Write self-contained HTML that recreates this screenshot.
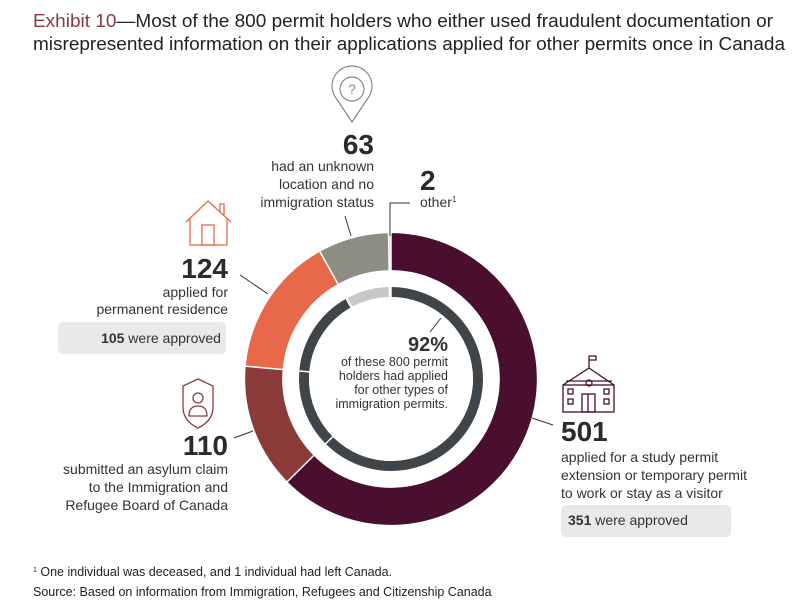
<!DOCTYPE html>
<html><head><meta charset="utf-8"><style>
html,body{margin:0;padding:0;background:#fff;}
svg{display:block;font-family:"Liberation Sans",sans-serif;}
</style></head><body>
<svg width="809" height="614" viewBox="0 0 809 614" xmlns="http://www.w3.org/2000/svg">
<text x="33" y="27" font-size="18" fill="#222" textLength="740" lengthAdjust="spacingAndGlyphs"><tspan fill="#8a3a3e">Exhibit 10</tspan>—Most of the 800 permit holders who either used fraudulent documentation or</text>
<text x="33" y="50" font-size="18" fill="#222" textLength="752" lengthAdjust="spacingAndGlyphs">misrepresented information on their applications applied for other permits once in Canada</text>

<!-- donut -->
<g transform="rotate(-90 391 379)">
<circle cx="391" cy="379" r="127.32" fill="none" stroke="#4a0e2e" stroke-width="37" stroke-dasharray="501 299" stroke-dashoffset="0"/>
<circle cx="391" cy="379" r="127.32" fill="none" stroke="#8b3a3a" stroke-width="37" stroke-dasharray="110 690" stroke-dashoffset="-501"/>
<circle cx="391" cy="379" r="127.32" fill="none" stroke="#e8694a" stroke-width="37" stroke-dasharray="124 676" stroke-dashoffset="-611"/>
<circle cx="391" cy="379" r="127.32" fill="none" stroke="#8e8d84" stroke-width="37" stroke-dasharray="63 737" stroke-dashoffset="-735"/>
<circle cx="391" cy="379" r="127.32" fill="none" stroke="#c9c9c4" stroke-width="37" stroke-dasharray="2 798" stroke-dashoffset="-798"/>
<circle cx="391" cy="379" r="87" fill="none" stroke="#3f4548" stroke-width="10" stroke-dasharray="503 44"/>
<circle cx="391" cy="379" r="87" fill="none" stroke="#c8c8c8" stroke-width="10" stroke-dasharray="43 504" stroke-dashoffset="-504"/>
</g>
<g stroke="#fff" stroke-width="1.5">
<line x1="391" y1="379" x2="391" y2="230"/>
<line x1="391" y1="379" x2="286" y2="483"/>
<line x1="391" y1="379" x2="243" y2="366"/>
<line x1="391" y1="379" x2="319" y2="250"/>
<line x1="391" y1="379" x2="388.5" y2="230"/>
</g>
<circle cx="391" cy="379" r="82" fill="#fff"/>

<!-- leaders -->
<g stroke="#333" stroke-width="1" fill="none">
<line x1="351" y1="236" x2="345" y2="216"/>
<polyline points="390,236 390,203 410,203"/>
<line x1="240" y1="275" x2="268" y2="294"/>
<line x1="234" y1="438" x2="253" y2="431"/>
<line x1="532" y1="418" x2="553" y2="425"/>
<line x1="441" y1="318" x2="430" y2="332"/>
</g>

<!-- center text -->
<text x="448" y="351" font-size="20" font-weight="bold" fill="#333" text-anchor="end">92%</text>
<g font-size="12.5" fill="#333" text-anchor="end">
<text x="448" y="366">of these 800 permit</text>
<text x="448" y="380">holders had applied</text>
<text x="448" y="394">for other types of</text>
<text x="448" y="408">immigration permits.</text>
</g>

<!-- pin icon -->
<g stroke="#888" stroke-width="1.2" fill="none">
<path d="M352 122 L336 98 A20 20 0 1 1 368 98 Z"/>
<circle cx="352" cy="89" r="12"/>
</g>
<text x="352" y="94" font-size="14" fill="#888" text-anchor="middle">?</text>

<text x="374" y="154" font-size="28" font-weight="bold" fill="#2b2b2b" text-anchor="end">63</text>
<g font-size="14" fill="#333" text-anchor="end">
<text x="374" y="171">had an unknown</text>
<text x="374" y="189">location and no</text>
<text x="374" y="207">immigration status</text>
</g>
<text x="420" y="190" font-size="28" font-weight="bold" fill="#2b2b2b">2</text>
<text x="420" y="207" font-size="14" fill="#333">other<tspan font-size="8" dy="-5">1</tspan></text>

<!-- house icon -->
<g stroke="#e0694a" stroke-width="1.3" fill="none">
<path d="M186 222 L208 201 L231 222"/>
<path d="M190 219 L190 245 L227 245 L227 219"/>
<rect x="202" y="225" width="12" height="20"/>
<path d="M220 212 L220 204 L224 204 L224 215"/>
</g>
<text x="228" y="278" font-size="28" font-weight="bold" fill="#2b2b2b" text-anchor="end">124</text>
<g font-size="14" fill="#333" text-anchor="end">
<text x="228" y="297">applied for</text>
<text x="228" y="314">permanent residence</text>
</g>
<rect x="58" y="322" width="168" height="32" rx="5" fill="#e9e9e9"/>
<text x="161" y="343" font-size="14" fill="#333" text-anchor="middle"><tspan font-weight="bold">105</tspan> were approved</text>

<!-- shield icon -->
<g stroke="#8b3a3a" stroke-width="1.3" fill="none">
<path d="M198 379 L213 386 L213 407 Q213 421 198 428 Q183 421 183 407 L183 386 Z"/>
<circle cx="198" cy="398" r="5"/>
<path d="M189 416 Q189 406 198 406 Q207 406 207 416 Z"/>
</g>
<text x="228" y="455" font-size="28" font-weight="bold" fill="#2b2b2b" text-anchor="end">110</text>
<g font-size="14" fill="#333" text-anchor="end">
<text x="228" y="474">submitted an asylum claim</text>
<text x="228" y="492">to the Immigration and</text>
<text x="228" y="510">Refugee Board of Canada</text>
</g>

<!-- school icon -->
<g stroke="#4a0e2e" stroke-width="1.3" fill="none">
<path d="M589 368 L589 356 L596 356 L596 360 L589 360"/>
<path d="M563 385 L589 368 L614 385"/>
<path d="M566 381 L612 381"/>
<rect x="563" y="385" width="51" height="27"/>
<circle cx="589" cy="383" r="3"/>
<rect x="568" y="389" width="5" height="5"/><rect x="604" y="389" width="5" height="5"/>
<rect x="568" y="399" width="5" height="5"/><rect x="604" y="399" width="5" height="5"/>
<rect x="582" y="394" width="13" height="18"/>
<line x1="588" y1="394" x2="588" y2="412"/>
</g>
<text x="561" y="441" font-size="28" font-weight="bold" fill="#2b2b2b">501</text>
<g font-size="14" fill="#333">
<text x="561" y="462">applied for a study permit</text>
<text x="561" y="480">extension or temporary permit</text>
<text x="561" y="498">to work or stay as a visitor</text>
</g>
<rect x="561" y="505" width="170" height="32" rx="5" fill="#e9e9e9"/>
<text x="568" y="525" font-size="14" fill="#333"><tspan font-weight="bold">351</tspan> were approved</text>

<!-- footnotes -->
<text x="33" y="576" font-size="12.5" fill="#222"><tspan font-size="7" dy="-4">1</tspan><tspan dy="4"> One individual was deceased, and 1 individual had left Canada.</tspan></text>
<text x="33" y="596" font-size="12.5" fill="#222">Source: Based on information from Immigration, Refugees and Citizenship Canada</text>
</svg>
</body></html>
